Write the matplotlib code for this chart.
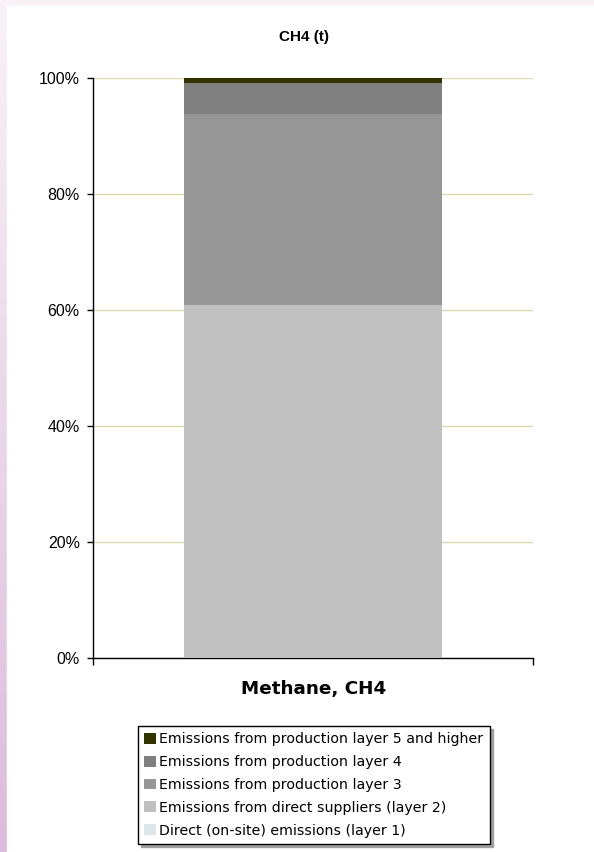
import matplotlib.pyplot as plt
import matplotlib.patches as mpatches
import numpy as np

# data
category = ['Methane, CH4']
layers = ['Direct (on-site) emissions (layer 1)',
          'Emissions from direct suppliers (layer 2)',
          'Emissions from production layer 3',
          'Emissions from production layer 4',
          'Emissions from production layer 5 and higher']
shares = [0.0, 60.9, 32.9, 5.3, 0.9]
colors = ['#dde6e9', '#c0c0c0', '#969696', '#808080', '#333300']
yticks = [0, 20, 40, 60, 80, 100]
ytick_labels = ['0%', '20%', '40%', '60%', '80%', '100%']

W, H = 594, 852
fig = plt.figure(figsize=(W / 100, H / 100), dpi=100)

# background frame with pink gradient on the left
bg = fig.add_axes([0, 0, 1, 1])
grad = np.linspace(0, 1, 256).reshape(-1, 1)
top = np.array([0.973, 0.949, 0.965])
bot = np.array([0.863, 0.737, 0.863])
img = top + (bot - top) * grad[:, :, None]
bg.imshow(img, aspect='auto', extent=[0, W, H, 0])
bg.add_patch(mpatches.Rectangle((7, 6), W - 7, H - 6, color='white'))
bg.set_xlim(0, W)
bg.set_ylim(H, 0)
bg.axis('off')

# main axes
x0, x1 = 93, 533
y100, y0 = 78, 658
ax = fig.add_axes([x0 / W, 1 - y0 / H, (x1 - x0) / W, (y0 - y100) / H])
ax.set_facecolor('none')

bottom = 0
for name, val, c in zip(layers, shares, colors):
    ax.bar(0, val, width=258 / 440, bottom=bottom, color=c, label=name, zorder=3)
    bottom += val

ax.set_xlim(-0.5, 0.5)
ax.set_ylim(0, 100)
ax.set_yticks(yticks)
ax.set_yticklabels(ytick_labels, fontsize=11.5, family='Liberation Sans')
ax.yaxis.grid(True, color='#dcd8b0', linewidth=1)
ax.set_axisbelow(True)
ax.tick_params(axis='y', length=4, width=1, pad=5.5, direction='out')
ax.set_xticks([-0.5, 0.5])
ax.set_xticklabels(['', ''])
ax.tick_params(axis='x', length=5, width=1, direction='out')
for s in ['top', 'right']:
    ax.spines[s].set_visible(False)
ax.spines['left'].set_linewidth(1)
ax.spines['bottom'].set_linewidth(1)

fig.text(304 / W, 1 - 37 / H, 'CH4 (t)', ha='center', va='center',
         fontsize=11, fontweight='bold', family='Liberation Sans')
fig.text(314 / W, 1 - 689 / H, category[0], ha='center', va='center',
         fontsize=13.2, fontweight='bold', family='DejaVu Sans')

handles, labels = ax.get_legend_handles_labels()
leg = fig.legend(handles[::-1], labels[::-1], loc='upper left',
                 bbox_to_anchor=(138 / W, 1 - 726 / H),
                 prop={'family': 'DejaVu Sans', 'size': 10.2},
                 frameon=True, fancybox=False,
                 shadow={'color': '#a0a0a0', 'alpha': 1},
                 handlelength=0.8, handleheight=0.8, handletextpad=0.25,
                 labelspacing=0.62, borderpad=0.45, borderaxespad=0)
leg.get_frame().set_edgecolor('black')
leg.get_frame().set_linewidth(1)

fig.savefig('out.png', dpi=100)
